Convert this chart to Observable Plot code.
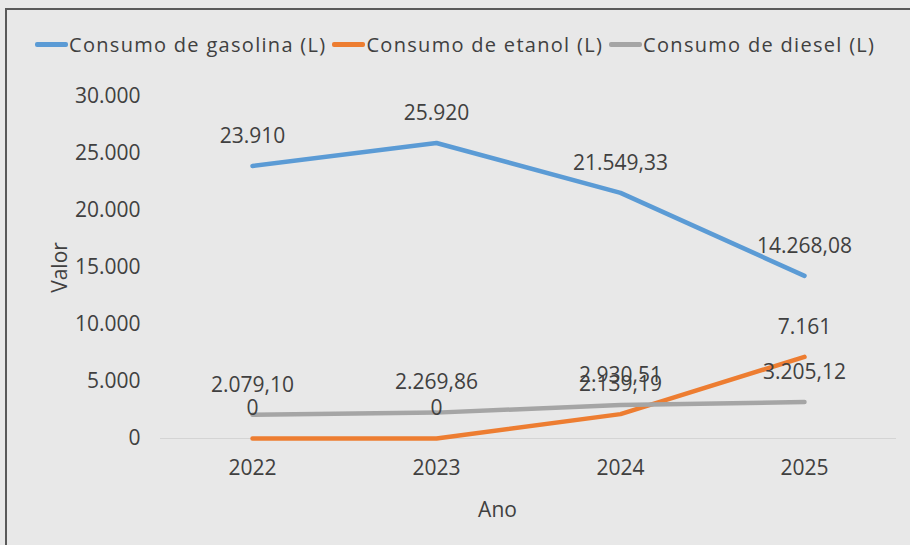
<!DOCTYPE html>
<html>
<head>
<meta charset="utf-8">
<script src="https://cdn.jsdelivr.net/npm/d3@7"></script>
<script src="https://cdn.jsdelivr.net/npm/@observablehq/plot@0.6"></script>
<style>
  html, body { margin: 0; padding: 0; background: #e8e8e8; }
  #wrap { position: relative; width: 910px; height: 545px; overflow: hidden; font-family: "Open Sans", sans-serif; color: #404040; }
  #frame { position: absolute; left: 5px; top: 8px; width: 1000px; height: 1000px; border-left: 2px solid #595959; border-top: 2px solid #595959; }
  #legend { position: absolute; top: 31px; left: 35px; display: flex; align-items: center; font-size: 20px; letter-spacing: 1.3px; white-space: nowrap; }
  .item { display: flex; align-items: center; margin-right: 6px; }
  .sw { width: 33px; height: 5px; border-radius: 2px; margin-right: 1px; }
  #chart { position: absolute; left: 0; top: 0; }
</style>
</head>
<body>
<div id="wrap">
  <div id="chart"></div>
  <div id="frame"></div>
  <div id="legend"></div>
</div>
<script>
const anos = ["2022", "2023", "2024", "2025"];
const gasolina = [23910, 25920, 21549.33, 14268.08];
const etanol = [0, 0, 2139.19, 7161];
const diesel = [2079.10, 2269.86, 2930.51, 3205.12];
const seriesNames = ["Consumo de gasolina (L)", "Consumo de etanol (L)", "Consumo de diesel (L)"];
const seriesColors = ["#5b9bd5", "#ed7d31", "#a5a5a5"];
const yTicks = [0, 5000, 10000, 15000, 20000, 25000, 30000];

const loc = d3.formatLocale({decimal: ",", thousands: ".", grouping: [3], currency: ["R$", ""]});
const fInt = loc.format(",d");
const fDec = loc.format(",.2f");
const fmt = v => Number.isInteger(v) ? fInt(v) : fDec(v);

const seriesValues = [gasolina, etanol, diesel];
const data = [];
seriesNames.forEach((s, i) => anos.forEach((a, j) => data.push({serie: s, ano: a, valor: seriesValues[i][j]})));

const plot = Plot.plot({
  width: 910,
  height: 545,
  marginLeft: 160,
  marginRight: 14,
  marginTop: 96,
  marginBottom: 107,
  style: {background: "transparent", fontFamily: "Open Sans, sans-serif", fontSize: "21px", color: "#404040"},
  x: {type: "point", domain: anos, padding: 0.5, tickSize: 0, tickPadding: 22, label: null},
  y: {domain: [0, 30000], ticks: yTicks, tickFormat: d => fInt(d), label: null, tickSize: 0, tickPadding: 20},
  color: {domain: seriesNames, range: seriesColors},
  marks: [
    Plot.ruleY([0], {stroke: "#d4d4d4", strokeWidth: 1}),
    Plot.axisX({tickSize: 0, tickPadding: 22, label: "Ano", labelAnchor: "center", labelOffset: 78, labelArrow: "none", fontSize: 21}),
    Plot.axisY({ticks: yTicks, tickFormat: d => fInt(d), tickSize: 0, tickPadding: 20, label: "Valor", labelAnchor: "center", labelArrow: "none", labelOffset: 108, fontSize: 21}),
    Plot.line(data, {x: "ano", y: "valor", z: "serie", stroke: "serie", strokeWidth: 4.5, strokeLinecap: "round", strokeLinejoin: "round"}),
    Plot.text(data, {x: "ano", y: "valor", text: d => fmt(d.valor), dy: -30, fill: "#404040", fontSize: 21})
  ]
});
document.getElementById("chart").appendChild(plot);

// shift the x-axis title to match the reference position
d3.select(plot).selectAll("[aria-label='x-axis label'] text").attr("dx", -31);

const leg = document.getElementById("legend");
seriesNames.forEach((s, i) => {
  const it = document.createElement("div");
  it.className = "item";
  const sw = document.createElement("div");
  sw.className = "sw";
  sw.style.background = seriesColors[i];
  const t = document.createElement("span");
  t.textContent = s;
  it.appendChild(sw); it.appendChild(t);
  leg.appendChild(it);
});
</script>
</body>
</html>
